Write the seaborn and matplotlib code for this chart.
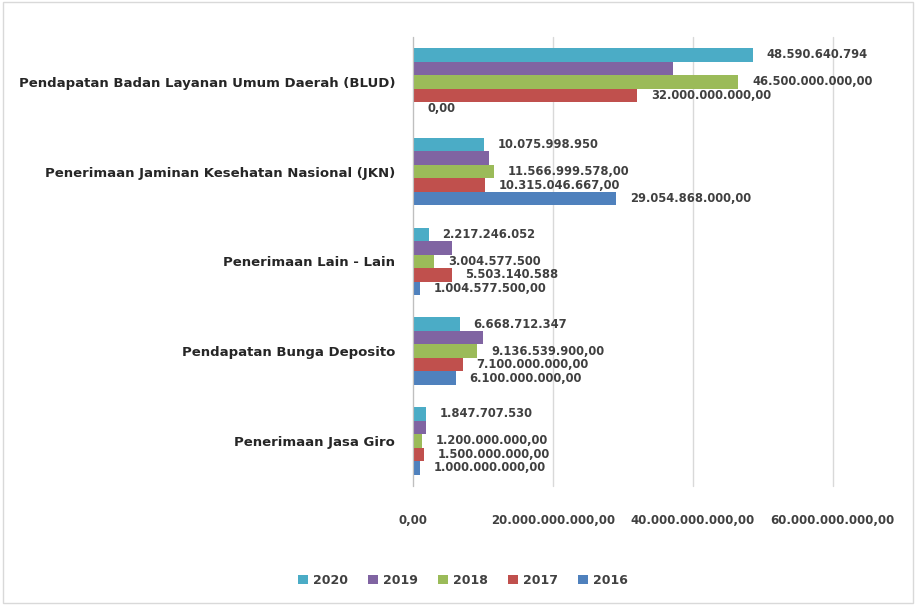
import matplotlib
matplotlib.use("Agg")
import matplotlib.pyplot as plt
from matplotlib.patches import Rectangle
from matplotlib.ticker import FixedLocator, FuncFormatter
import seaborn as sns
import pandas as pd

# Revenue categories (top to bottom)
categories = [
    "Pendapatan Badan Layanan Umum Daerah (BLUD)",
    "Penerimaan Jaminan Kesehatan Nasional (JKN)",
    "Penerimaan Lain - Lain",
    "Pendapatan Bunga Deposito",
    "Penerimaan Jasa Giro",
]
years = ["2020", "2019", "2018", "2017", "2016"]

v2020 = [48590640794, 10075998950, 2217246052, 6668712347, 1847707530]
v2019 = [37100000000, 10800000000, 5600000000, 10000000000, 1900000000]
v2018 = [46500000000, 11566999578, 3004577500, 9136539900, 1200000000]
v2017 = [32000000000, 10315046667, 5503140588, 7100000000, 1500000000]
v2016 = [0, 29054868000, 1004577500, 6100000000, 1000000000]

# Decimal places shown in each value label (None = no label)
dec2020 = [0, 0, 0, 0, 0]
dec2019 = [None, None, None, None, None]
dec2018 = [2, 2, 0, 2, 2]
dec2017 = [2, 2, 0, 2, 2]
dec2016 = [2, 2, 2, 2, 2]

x_ticks = [0, 20000000000, 40000000000, 60000000000]

colors = ["#4BACC6", "#8064A2", "#9BBB59", "#C0504D", "#4F81BD"]

series = [v2020, v2019, v2018, v2017, v2016]
decimals = [dec2020, dec2019, dec2018, dec2017, dec2016]


def fmt_id(v, dec=2):
    s = f"{v:,.{dec}f}"
    return s.replace(",", "_").replace(".", ",").replace("_", ".")


rows = []
for yr, vals in zip(years, series):
    for cat, v in zip(categories, vals):
        rows.append({"kategori": cat, "tahun": yr, "nilai": v})
df = pd.DataFrame(rows)

sns.set_style("white")
plt.rcParams["font.family"] = ["DejaVu Sans"]

fig = plt.figure(figsize=(9.16, 6.05), dpi=100)
ax = fig.add_axes([0.451, 0.197, 0.909 - 0.451, 0.742])

sns.barplot(
    data=df, y="kategori", x="nilai", hue="tahun",
    order=categories, hue_order=years, palette=colors,
    orient="h", width=0.75, errorbar=None, saturation=1,
    linewidth=0, ax=ax,
)

ax.set_xlim(0, 60000000000)
ax.xaxis.set_major_locator(FixedLocator(x_ticks))
ax.xaxis.set_major_formatter(FuncFormatter(lambda v, p: fmt_id(v, 2)))
ax.set_xlabel("")
ax.set_ylabel("")
ax.grid(axis="x", color="#d9d9d9", linewidth=1)
for gl in ax.get_xgridlines():
    gl.set_clip_on(False)
ax.set_axisbelow(True)
for side in ["top", "right", "bottom"]:
    ax.spines[side].set_visible(False)
ax.spines["left"].set_color("#bfbfbf")
ax.tick_params(axis="x", length=0, pad=20, labelsize=8.5, labelcolor="#404040")
ax.tick_params(axis="y", length=0, pad=13, labelsize=9.5, labelcolor="#262626")
for lab in ax.get_xticklabels() + ax.get_yticklabels():
    lab.set_fontweight("bold")

# Value labels at the end of each bar
for cont, decs in zip(ax.containers, decimals):
    for bar, d in zip(cont.patches, decs):
        if d is None:
            continue
        w = bar.get_width()
        yc = bar.get_y() + bar.get_height() / 2
        ax.annotate(
            fmt_id(w, d), xy=(w, yc), xytext=(10, 0), textcoords="offset points",
            ha="left", va="center", fontsize=8.3, fontweight="bold",
            color="#404040", annotation_clip=False,
        )

handles, labels = ax.get_legend_handles_labels()
if ax.get_legend() is not None:
    ax.get_legend().remove()
fig.legend(
    handles, labels, loc="center", bbox_to_anchor=(0.505, 0.041), ncol=5,
    frameon=False, handlelength=0.8, handleheight=0.8, handletextpad=0.4,
    columnspacing=1.6, prop={"size": 9, "weight": "bold"}, labelcolor="#404040",
)

fig.patches.append(Rectangle((0.003, 0.003), 0.994, 0.994, transform=fig.transFigure,
                             fill=False, edgecolor="#d9d9d9", linewidth=1))

fig.savefig("out.png", dpi=100)
